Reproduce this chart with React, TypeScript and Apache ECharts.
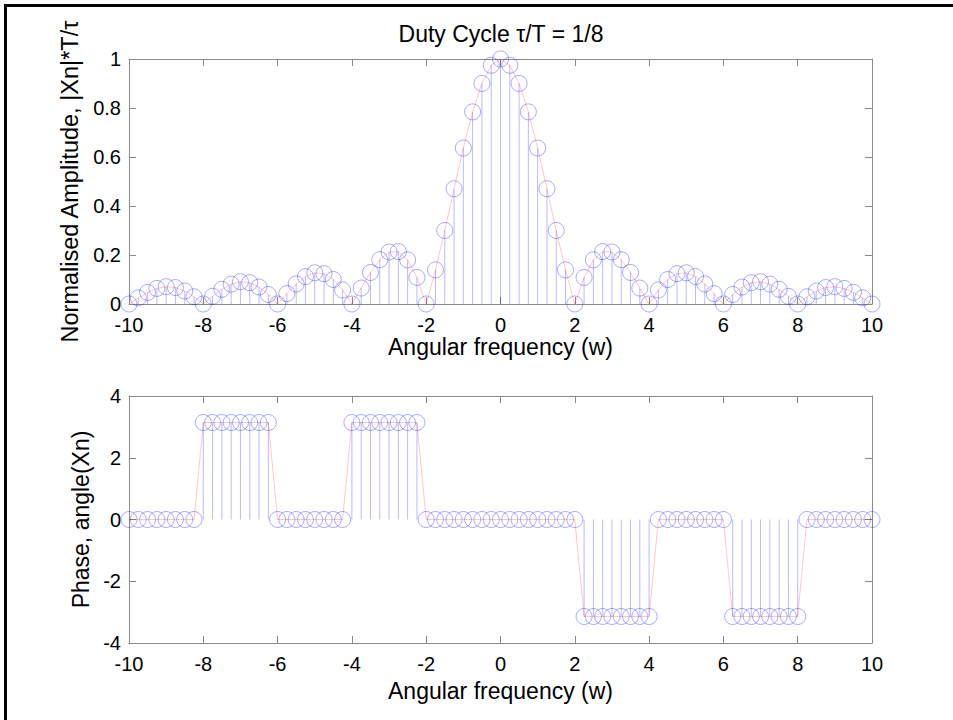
import React, { useEffect, useRef } from "react";
import * as echarts from "echarts";

// Angular frequency samples (w)
const wValues: number[] = [
  -10, -9.75, -9.5, -9.25, -9, -8.75, -8.5, -8.25, -8, -7.75, -7.5, -7.25, -7, -6.75, -6.5, -6.25,
  -6, -5.75, -5.5, -5.25, -5, -4.75, -4.5, -4.25, -4, -3.75, -3.5, -3.25, -3, -2.75, -2.5, -2.25,
  -2, -1.75, -1.5, -1.25, -1, -0.75, -0.5, -0.25, 0, 0.25, 0.5, 0.75, 1, 1.25, 1.5, 1.75,
  2, 2.25, 2.5, 2.75, 3, 3.25, 3.5, 3.75, 4, 4.25, 4.5, 4.75, 5, 5.25, 5.5, 5.75,
  6, 6.25, 6.5, 6.75, 7, 7.25, 7.5, 7.75, 8, 8.25, 8.5, 8.75, 9, 9.25, 9.5, 9.75, 10,
];

// Normalised amplitude |Xn|*T/tau
const amplitude: number[] = [
  0, 0.025, 0.0474, 0.0636, 0.0707, 0.0672, 0.053, 0.0295, 0, 0.0314, 0.06, 0.0811, 0.0909, 0.0871, 0.0693, 0.039,
  0, 0.0424, 0.0818, 0.112, 0.1273, 0.1238, 0.1, 0.0573, 0, 0.065, 0.1286, 0.181, 0.2122, 0.2139, 0.1801, 0.1083,
  0, 0.1392, 0.3001, 0.4705, 0.6366, 0.7842, 0.9003, 0.9745, 1, 0.9745, 0.9003, 0.7842, 0.6366, 0.4705, 0.3001, 0.1392,
  0, 0.1083, 0.1801, 0.2139, 0.2122, 0.181, 0.1286, 0.065, 0, 0.0573, 0.1, 0.1238, 0.1273, 0.112, 0.0818, 0.0424,
  0, 0.039, 0.0693, 0.0871, 0.0909, 0.0811, 0.06, 0.0314, 0, 0.0295, 0.053, 0.0672, 0.0707, 0.0636, 0.0474, 0.025, 0,
];

// Phase angle(Xn)
const phase: number[] = [
  0, 0, 0, 0, 0, 0, 0, 0, 3.1416, 3.1416, 3.1416, 3.1416, 3.1416, 3.1416, 3.1416, 3.1416,
  0, 0, 0, 0, 0, 0, 0, 0, 3.1416, 3.1416, 3.1416, 3.1416, 3.1416, 3.1416, 3.1416, 3.1416,
  0, 0, 0, 0, 0, 0, 0, 0, 0, 0, 0, 0, 0, 0, 0, 0,
  0, -3.1416, -3.1416, -3.1416, -3.1416, -3.1416, -3.1416, -3.1416, -3.1416, 0, 0, 0, 0, 0, 0, 0,
  0, -3.1416, -3.1416, -3.1416, -3.1416, -3.1416, -3.1416, -3.1416, -3.1416, 0, 0, 0, 0, 0, 0, 0, 0,
];

const xTicks = { min: -10, max: 10, interval: 2 };
const ampTicks = { min: 0, max: 1, interval: 0.2 };
const phaseTicks = { min: -4, max: 4, interval: 2 };

const FONT = "'Liberation Sans', Arial, Helvetica, sans-serif";
const AXIS_COLOR = "#8a8a8a";
const STEM = "rgba(0,0,255,0.27)";
const CIRCLE = "rgba(0,0,255,0.33)";
const RED = "rgba(255,0,0,0.22)";

function stemRender(params: any, api: any) {
  const x = api.value(0);
  const y = api.value(1);
  const p0 = api.coord([x, 0]);
  const p1 = api.coord([x, y]);
  return {
    type: "group",
    children: [
      {
        type: "line",
        shape: { x1: p0[0], y1: p0[1], x2: p1[0], y2: p1[1] },
        style: { stroke: STEM, lineWidth: 1 },
      },
      {
        type: "circle",
        shape: { cx: p1[0], cy: p1[1], r: 8 },
        style: { fill: "none", stroke: CIRCLE, lineWidth: 1 },
      },
    ],
  };
}

export default function App() {
  const ref = useRef<HTMLDivElement>(null);
  useEffect(() => {
    if (!ref.current) return;
    const chart = echarts.init(ref.current, undefined, { renderer: "svg" });
    const ampData = wValues.map((w, i) => [w, amplitude[i]]);
    const phaseData = wValues.map((w, i) => [w, phase[i]]);

    const mainX = (gridIndex: number, nameGap: number) => ({
      type: "value",
      gridIndex,
      position: "bottom",
      ...xTicks,
      name: "Angular frequency (w)",
      nameLocation: "middle",
      nameGap,
      nameTextStyle: { fontFamily: FONT, fontSize: 23, color: "#000" },
      axisLine: { show: true, onZero: false, lineStyle: { color: AXIS_COLOR, width: 1 } },
      axisTick: { show: true, inside: true, length: 7, lineStyle: { color: AXIS_COLOR } },
      axisLabel: { fontFamily: FONT, fontSize: 20, color: "#000", margin: 11 },
      splitLine: { show: false },
    });
    const mirrorX = (gridIndex: number) => ({
      type: "value",
      gridIndex,
      position: "top",
      ...xTicks,
      axisLine: { show: true, onZero: false, lineStyle: { color: AXIS_COLOR, width: 1 } },
      axisTick: { show: true, inside: true, length: 7, lineStyle: { color: AXIS_COLOR } },
      axisLabel: { show: false },
      splitLine: { show: false },
    });
    const mainY = (gridIndex: number, ticks: any, name: string, nameGap: number, size: number) => ({
      type: "value",
      gridIndex,
      position: "left",
      ...ticks,
      name,
      nameLocation: "middle",
      nameGap,
      nameTextStyle: { fontFamily: FONT, fontSize: size, color: "#000" },
      axisLine: { show: true, onZero: false, lineStyle: { color: AXIS_COLOR, width: 1 } },
      axisTick: { show: true, inside: true, length: 7, lineStyle: { color: AXIS_COLOR } },
      axisLabel: { fontFamily: FONT, fontSize: 20, color: "#000", margin: 8 },
      splitLine: { show: false },
    });
    const mirrorY = (gridIndex: number, ticks: any) => ({
      type: "value",
      gridIndex,
      position: "right",
      ...ticks,
      axisLine: { show: true, onZero: false, lineStyle: { color: AXIS_COLOR, width: 1 } },
      axisTick: { show: true, inside: true, length: 7, lineStyle: { color: AXIS_COLOR } },
      axisLabel: { show: false },
      splitLine: { show: false },
    });

    chart.setOption({
      animation: false,
      backgroundColor: "#fff",
      grid: [
        { left: 129, top: 59, width: 743, height: 245 },
        { left: 129, top: 396, width: 743, height: 247 },
      ],
      xAxis: [mainX(0, 28), mirrorX(0), mainX(1, 36), mirrorX(1)],
      yAxis: [
        mainY(0, ampTicks, "Normalised Amplitude, |Xn|*T/τ", 45, 23.5),
        mirrorY(0, ampTicks),
        mainY(1, phaseTicks, "Phase, angle(Xn)", 33, 23),
        mirrorY(1, phaseTicks),
      ],
      graphic: [
        { type: "rect", shape: { x: 4, y: 4, width: 3, height: 716 }, style: { fill: "#000" } },
        { type: "rect", shape: { x: 4, y: 4, width: 949, height: 3 }, style: { fill: "#000" } },
        {
          type: "text",
          x: 501,
          y: 34,
          style: {
            text: "Duty Cycle τ/T = 1/8",
            fontFamily: FONT,
            fontSize: 23,
            fill: "#000",
            textAlign: "center",
            textVerticalAlign: "middle",
          },
        },
      ],
      series: [
        {
          type: "line",
          xAxisIndex: 0,
          yAxisIndex: 0,
          data: ampData,
          symbol: "none",
          lineStyle: { color: RED, width: 1 },
          z: 2,
        },
        {
          type: "custom",
          xAxisIndex: 0,
          yAxisIndex: 0,
          data: ampData,
          renderItem: stemRender,
          clip: false,
          z: 3,
        },
        {
          type: "line",
          xAxisIndex: 2,
          yAxisIndex: 2,
          data: phaseData,
          symbol: "none",
          lineStyle: { color: RED, width: 1 },
          z: 2,
        },
        {
          type: "custom",
          xAxisIndex: 2,
          yAxisIndex: 2,
          data: phaseData,
          renderItem: stemRender,
          clip: false,
          z: 3,
        },
      ],
    });
    return () => chart.dispose();
  }, []);
  return (
    <div
      ref={ref}
      style={{ position: "absolute", left: 0, top: 0, width: 953, height: 720, background: "#fff" }}
    />
  );
}
